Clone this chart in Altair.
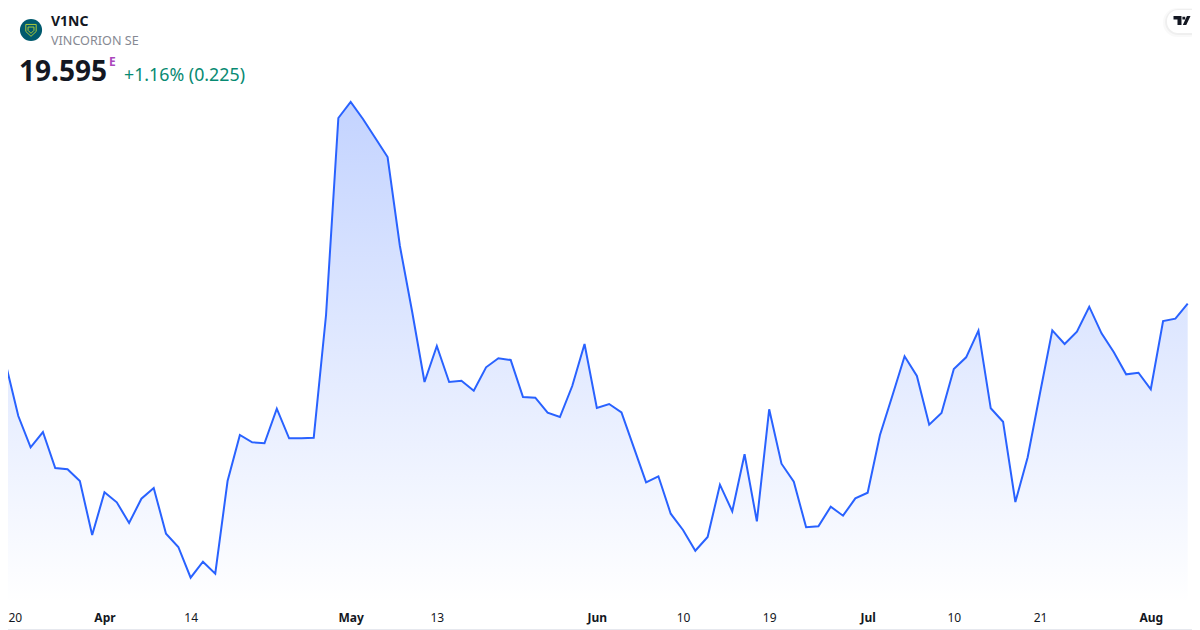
import altair as alt
import pandas as pd

# Close price per session
prices = [16.53, 13.98, 12.415, 13.18, 11.38, 11.315, 10.73, 8.03, 10.165, 9.665,
          8.63, 9.845, 10.38, 8.095, 7.43, 5.895, 6.695, 6.095, 10.73, 13.03,
          12.665, 12.615, 14.345, 12.865, 12.865, 12.895, 19.03, 28.88, 29.68, 28.83,
          27.88, 26.93, 22.48, 19.18, 15.68, 17.48, 15.68, 15.745, 15.245, 16.415,
          16.865, 16.78, 14.93, 14.895, 14.145, 13.93, 15.48, 17.58, 14.38, 14.58,
          14.165, 12.415, 10.665, 10.965, 9.095, 8.28, 7.245, 7.93, 10.545, 9.215,
          12.065, 8.715, 14.315, 11.595, 10.695, 8.415, 8.465, 9.445, 8.995, 9.865,
          10.145, 13.03, 14.98, 16.965, 15.98, 13.545, 14.13, 16.33, 16.915, 18.245,
          14.365, 13.695, 9.68, 11.915, 15.115, 18.265, 17.58, 18.195, 19.445, 18.115,
          17.165, 16.065, 16.145, 15.315, 18.73, 18.845, 19.595]
sessions = list(range(len(prices)))

tick_sessions = [0, 8, 15, 28, 35, 48, 55, 62, 70, 77, 84, 93]
tick_labels = ["20", "Apr", "14", "May", "13", "Jun", "10", "19", "Jul", "10", "21", "Aug"]
month_sessions = [8, 28, 48, 70, 93]

BASE = 4.58
Y_TOP = 34.38
FONT = "Noto Sans"
OX, OY = 8, 8  # page margin

df = pd.DataFrame({"session": sessions, "price": prices})

x = alt.X("session:Q",
          scale=alt.Scale(domain=[0, 96], range=[-2, 1179.7], nice=False, zero=False),
          axis=alt.Axis(
              values=tick_sessions,
              labelExpr="%s[indexof(%s, datum.value)]" % (tick_labels, tick_sessions),
              title=None, grid=False, domain=False, ticks=False,
              labelFont=FONT, labelFontSize=12, labelColor="#131722",
              labelPadding=8, labelOverlap=False, labelBound=False,
              labelAlign={"condition": {"test": "datum.value == 0", "value": "left"}, "value": "center"},
              labelOffset={"condition": {"test": "datum.value == 0", "value": 2}, "value": 0},
              labelFontWeight={"condition": {"test": "indexof(%s, datum.value) >= 0" % month_sessions,
                                             "value": "bold"}, "value": "normal"},
          ))
y = alt.Y("price:Q", scale=alt.Scale(domain=[BASE, Y_TOP], nice=False, zero=False), axis=None)

gradient = alt.Gradient(
    gradient="linear", x1=0, y1=0, x2=0, y2=1,
    stops=[alt.GradientStop(color="rgba(41,98,255,0.28)", offset=0),
           alt.GradientStop(color="rgba(41,98,255,0.0)", offset=1)])

area = alt.Chart(df).mark_area(color=gradient, line=False).encode(x=x, y=y, y2=alt.Y2(datum=BASE))
line = alt.Chart(df).mark_line(color="#2962ff", strokeWidth=2, strokeJoin="miter").encode(x=x, y=y)


def label(text, sx, sy, size, color, weight="normal"):
    return alt.Chart(pd.DataFrame({"t": [text]})).mark_text(
        font=FONT, fontSize=size, color=color, fontWeight=weight,
        align="left", baseline="alphabetic",
    ).encode(x=alt.value(sx - OX), y=alt.value(sy - OY), text="t:N")


def symbol(shape, sx, sy, size, **kw):
    return alt.Chart(pd.DataFrame({"t": [0]})).mark_point(shape=shape, size=size, **kw).encode(
        x=alt.value(sx - OX), y=alt.value(sy - OY))


def box(x0, x1, y0, y1, **kw):
    return alt.Chart(pd.DataFrame({"t": [0]})).mark_rect(**kw).encode(
        x=alt.value(x0 - OX), x2=alt.value(x1 - OX), y=alt.value(y0 - OY), y2=alt.value(y1 - OY))


texts = [
    label("V1NC", 51, 26, 14, "#131722", "bold"),
    label("VINCORION SE", 51, 45, 12.6, "#868993"),
    label("19.595", 19, 81, 28, "#131722", "bold"),
    label("E", 109, 66, 12, "#ab47bc", "bold"),
    label("+1.16% (0.225)", 124, 80.5, 17.8, "#078a72"),
]

shield = "M-0.7,-0.75 L0.7,-0.75 L0.7,0.2 L0,0.85 L-0.7,0.2 Z M-0.4,-0.4 L0.4,-0.4 L0.4,0.05 L0,0.45 L-0.4,0.05 Z"
logo = [
    symbol("circle", 31, 30, 490, filled=True, color="#005a6e", opacity=1, strokeWidth=0),
    symbol(shield, 31, 30, 220, filled=False, color="#a8c83c", opacity=1, strokeWidth=1),
]

tv_path = ("M-1,-0.53 L-0.06,-0.53 L-0.06,0.53 L-0.53,0.53 L-0.53,-0.12 L-1,-0.12 Z "
           "M0.58,-0.53 L1,-0.53 L0.5,0.53 L0.1,0.53 Z "
           "M0.05,-0.45 L0.38,-0.45 L0.38,-0.12 L0.05,-0.12 Z")
tv = [
    box(1163, 1204, 8, 37, color="#000000", opacity=0.025, cornerRadius=14),
    box(1165, 1204, 9, 35, color="#000000", opacity=0.04, cornerRadius=13),
    box(1167, 1210, 10, 33, color="#ffffff", cornerRadius=11),
    symbol(tv_path, 1182, 20.5, 289, filled=True, color="#131722", opacity=1, strokeWidth=0),
]

frame = [box(8, 1192, 629, 630, color="#e6e8ee")]

chart = alt.layer(area, line, *frame, *tv, *logo, *texts).properties(
    width=1184, height=596,
    autosize=alt.AutoSizeParams(type="none"),
    padding={"left": 0, "top": 0, "right": 0, "bottom": 26},
    background="#ffffff",
).configure_view(stroke=None)

chart.save("out.html", embed_options={"renderer": "svg", "actions": False})
